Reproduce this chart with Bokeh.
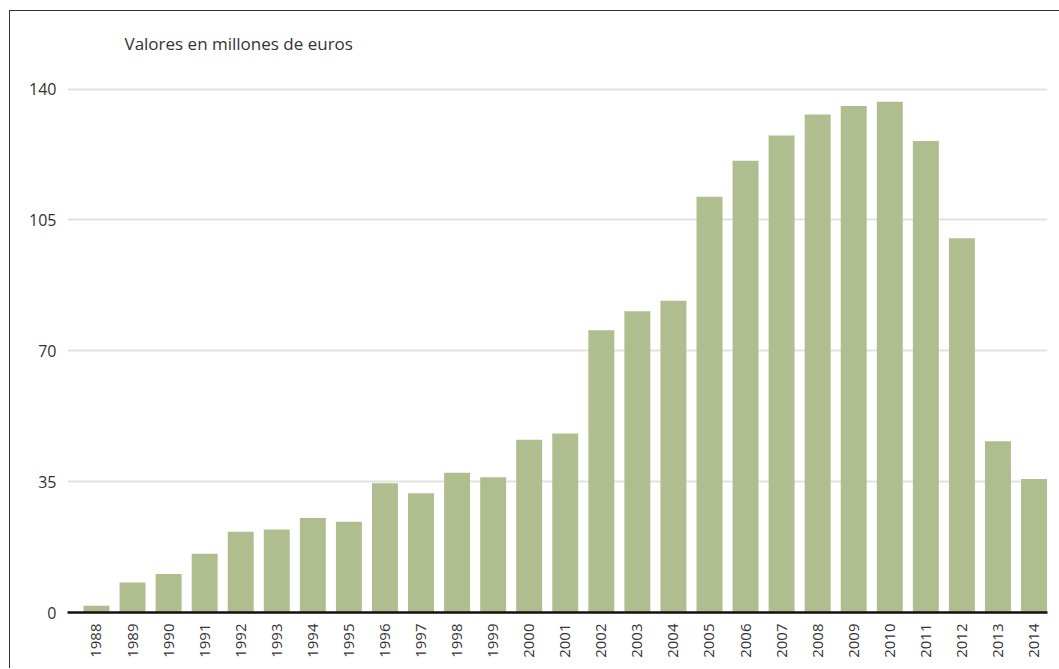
from bokeh.plotting import figure
from bokeh.models import FixedTicker, Range1d
from bokeh.embed import file_html
from bokeh.resources import INLINE
import math

years = list(range(1988, 2015))
values = [1.8, 8.0, 10.3, 15.7, 21.6, 22.2, 25.3, 24.3, 34.6, 31.9, 37.4, 36.2,
          46.2, 47.9, 75.5, 80.6, 83.4, 111.2, 120.8, 127.6, 133.2, 135.5, 136.6,
          126.1, 100.1, 45.8, 35.7]
y_ticks = [0, 35, 70, 105, 140]
title_text = "Valores en millones de euros"

FONT = "Open Sans"
TXT = "#333333"

p = figure(frame_width=980, frame_height=544, output_backend="svg", toolbar_location=None,
           x_range=Range1d(1987.196, 2014.374), y_range=Range1d(0, 145.5),
           min_border_left=57, min_border_right=13, min_border_top=57, min_border_bottom=56)
p.margin = (10, 0, 0, 9)
p.styles = {"border-left": "1px solid #333333", "border-top": "1px solid #333333"}
p.outline_line_color = None

p.vbar(x=years, top=values, width=0.72, bottom=0, fill_color="#b0be8f", line_color=None)

p.title.text = title_text
p.title.text_font = FONT
p.title.text_font_size = "17px"
p.title.text_font_style = "normal"
p.title.text_color = TXT
p.title.align = "left"
p.title.offset = 57
p.title.standoff = 27

p.xgrid.visible = False
p.ygrid.ticker = FixedTicker(ticks=y_ticks)
p.ygrid.grid_line_color = "#e2e2e2"
p.ygrid.grid_line_width = 2

p.yaxis.ticker = FixedTicker(ticks=y_ticks)
p.yaxis.axis_line_color = None
p.yaxis.major_tick_line_color = None
p.yaxis.minor_tick_line_color = None
p.yaxis.major_label_standoff = 5
p.yaxis.major_label_text_font = FONT
p.yaxis.major_label_text_font_size = "16px"
p.yaxis.major_label_text_font_style = "normal"
p.yaxis.major_label_text_color = "#333333"

p.xaxis.ticker = FixedTicker(ticks=years)
p.xaxis.axis_line_color = "#111111"
p.xaxis.axis_line_width = 2.5
p.xaxis.major_tick_line_color = None
p.xaxis.minor_tick_line_color = None
p.xaxis.major_label_orientation = math.pi / 2
p.xaxis.major_label_standoff = 5
p.xaxis.major_label_text_font = FONT
p.xaxis.major_label_text_font_size = "15px"
p.xaxis.major_label_text_color = TXT

open("out.html", "w").write(file_html(p, INLINE))
